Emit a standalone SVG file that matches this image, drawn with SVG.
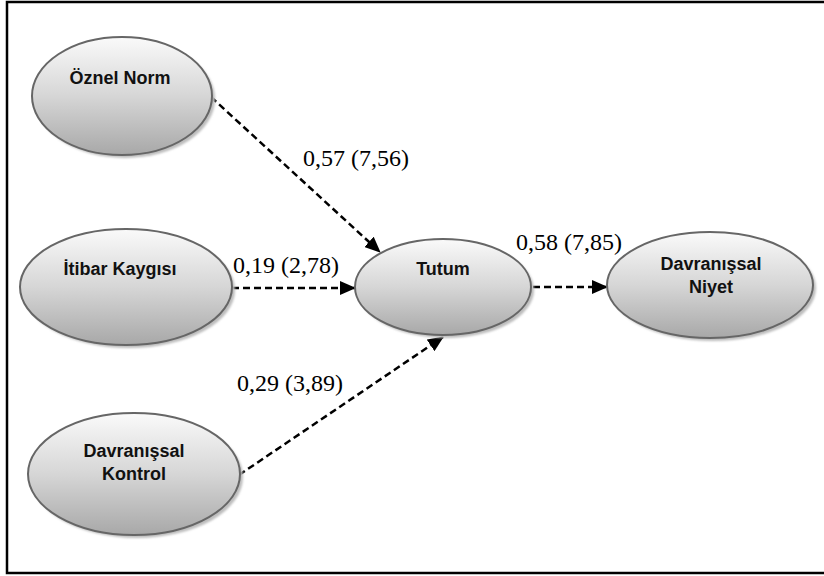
<svg xmlns="http://www.w3.org/2000/svg" width="824" height="576" viewBox="0 0 824 576">
<defs>
<linearGradient id="g" x1="0" y1="0" x2="0" y2="1">
<stop offset="0" stop-color="#fafafa"/>
<stop offset="0.5" stop-color="#d6d6d6"/>
<stop offset="1" stop-color="#a8a8a8"/>
</linearGradient>
<filter id="blur" x="-10%" y="-10%" width="120%" height="120%"><feGaussianBlur stdDeviation="1.2"/></filter>
<marker id="ah" markerWidth="16" markerHeight="14" refX="15" refY="7" orient="auto" markerUnits="userSpaceOnUse">
<path d="M0,0 L16,7 L0,14 Z" fill="#000"/>
</marker>
<style>
.sh{fill:#bdbdbd;filter:url(#blur)}
.el{fill:url(#g);stroke:#666;stroke-width:2}
.lb{font-family:"Liberation Sans",Arial,sans-serif;font-weight:bold;font-size:18px;fill:#111;text-anchor:middle}
.num{font-family:"Liberation Serif","Times New Roman",serif;font-size:24px;fill:#000}
.cn{stroke:#000;stroke-width:2.5;stroke-dasharray:7,4;fill:none;marker-end:url(#ah)}
</style>
</defs>
<rect x="0" y="0" width="824" height="576" fill="#fff"/>
<rect x="7" y="2" width="830" height="571" fill="none" stroke="#000" stroke-width="2.5"/>
<g id="connectors">
<line class="cn" x1="211" y1="97" x2="380" y2="252"/>
<line class="cn" x1="232" y1="288" x2="355" y2="288"/>
<line class="cn" x1="239" y1="475" x2="443" y2="337"/>
<line class="cn" x1="533" y1="287" x2="607" y2="287"/>
</g>
<g id="n-oznel">
<ellipse class="sh" cx="125" cy="99" rx="90" ry="59"/>
<ellipse class="el" cx="122" cy="96" rx="90" ry="59"/>
<text class="lb" x="120" y="84">Öznel Norm</text>
</g>
<g id="n-itibar">
<ellipse class="sh" cx="129" cy="290" rx="106" ry="58"/>
<ellipse class="el" cx="126" cy="287" rx="106" ry="58"/>
<text class="lb" x="120" y="275">İtibar Kaygısı</text>
</g>
<g id="n-kontrol">
<ellipse class="sh" cx="137" cy="477" rx="106" ry="61"/>
<ellipse class="el" cx="134" cy="474" rx="106" ry="61"/>
<text class="lb" x="134" y="457">Davranışsal</text>
<text class="lb" x="134" y="480">Kontrol</text>
</g>
<g id="n-tutum">
<ellipse class="sh" cx="446" cy="290" rx="88" ry="48"/>
<ellipse class="el" cx="443" cy="287" rx="88" ry="48"/>
<text class="lb" x="443" y="275">Tutum</text>
</g>
<g id="n-niyet">
<ellipse class="sh" cx="713" cy="288" rx="103" ry="53"/>
<ellipse class="el" cx="710" cy="285" rx="103" ry="53"/>
<text class="lb" x="711" y="270">Davranışsal</text>
<text class="lb" x="711" y="293">Niyet</text>
</g>
<g id="labels">
<text class="num" x="303" y="166">0,57 (7,56)</text>
<text class="num" x="233" y="273">0,19 (2,78)</text>
<text class="num" x="237" y="391">0,29 (3,89)</text>
<text class="num" x="516" y="250">0,58 (7,85)</text>
</g>
</svg>
